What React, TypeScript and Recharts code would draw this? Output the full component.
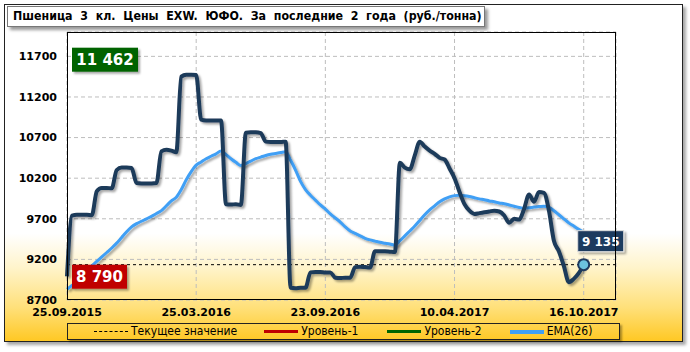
import { LineChart, Line, XAxis, YAxis, CartesianGrid, ReferenceLine } from 'recharts';

// x positions of the date ticks (weekly points) and their labels
const tickIdx = [0, 26, 52, 78, 104];
const tickLabels = ['25.09.2015', '25.03.2016', '23.09.2016', '10.04.2017', '16.10.2017'];
const yTicks = [8700, 9200, 9700, 10200, 10700, 11200, 11700];

// weekly price, rub/t
const price = [
  8990, 9740, 9750, 9750, 9750, 9745, 10040, 10080, 10080, 10075,
  10300, 10330, 10330, 10325, 10140, 10135, 10135, 10135, 10140, 10530,
  10550, 10540, 10520, 11450, 11475, 11475, 11470, 10920, 10910, 10910,
  10910, 10910, 9880, 9875, 9880, 9870, 10760, 10765, 10765, 10755,
  10650, 10645, 10645, 10645, 10650, 8850, 8845, 8850, 8850, 9040,
  9045, 9045, 9040, 9040, 8975, 8970, 8975, 8975, 9105, 9110,
  9105, 9100, 9300, 9300, 9300, 9295, 9290, 10390, 10330, 10310,
  10480, 10650, 10590, 10540, 10500, 10450, 10430, 10320, 10200, 10030,
  9880, 9800, 9760, 9770, 9780, 9790, 9800, 9790, 9740, 9650,
  9700, 9690, 9820, 10000, 9910, 10030, 10020, 9800, 9430, 9300,
  9120, 8920, 8960, 9030, 9135,
];

const ema = [
  8830, 8880, 8930, 8990, 9060, 9120, 9175, 9230, 9285, 9340,
  9400, 9470, 9540, 9600, 9640, 9670, 9700, 9730, 9765, 9800,
  9860, 9920, 9965, 10060, 10180, 10280, 10360, 10400, 10440, 10470,
  10500, 10535, 10490, 10440, 10395, 10355, 10380, 10410, 10440, 10460,
  10480, 10495, 10505, 10515, 10525, 10420, 10300, 10160, 10060, 9990,
  9930, 9870, 9820, 9760, 9710, 9660, 9600, 9550, 9520, 9490,
  9460, 9440, 9425, 9410, 9400, 9390, 9375, 9430, 9490, 9550,
  9610, 9680, 9750, 9810, 9860, 9910, 9945, 9970, 9985, 9990,
  9985, 9975, 9960, 9945, 9935, 9920, 9910, 9895, 9885, 9870,
  9855, 9840, 9830, 9835, 9845, 9850, 9855, 9840, 9800, 9750,
  9700, 9650, 9610, 9570, 9535,
];

const currentValue = 9135;
const level1 = 8790;
const level2 = 11462;

const data = price.map((p, i) => ({ i, price: p, ema: ema[i] }));

const fmt = (v: number) => String(v).replace(/\B(?=(\d{3})+(?!\d))/g, ' ');

const axisFont = { fill: '#000', fontSize: 11, fontWeight: 'bold', fontFamily: 'DejaVu Sans' };

function LevelLabel(props: any) {
  const { viewBox, text, fill, w } = props;
  if (!viewBox) return null;
  const x = viewBox.x + 5;
  const y = viewBox.y - 28;
  return (
    <g>
      <rect x={x} y={y} width={w} height={24} fill={fill} filter="url(#sh)" />
      <text x={x + w / 2} y={y + 17.5} textAnchor="middle" fill="#fff"
        fontSize={15} fontWeight="bold" fontFamily="DejaVu Sans">{text}</text>
    </g>
  );
}

function LastDot(props: any) {
  const { cx, cy, index } = props;
  if (index !== price.length - 1) return <g key={index} />;
  return (
    <g key={index}>
      <rect x={cx - 6} y={cy - 34} width={46} height={21} fill="#1f3a5f" stroke="#e0e0e0"
        strokeWidth={1} filter="url(#sh)" />
      <text x={cx + 17} y={cy - 19} textAnchor="middle" fill="#fff" fontSize={12}
        fontWeight="bold" fontFamily="DejaVu Sans">{fmt(currentValue)}</text>
      <circle cx={cx} cy={cy} r={5.5} fill="#6cc3df" stroke="#1f3a5f" strokeWidth={2} />
    </g>
  );
}

function LegendItem({ color, dashed, width, text, gap }: { color: string; dashed?: boolean; width: number; text: string; gap: number }) {
  return (
    <span style={{ display: 'inline-flex', alignItems: 'center', marginRight: gap }}>
      <span style={{
        display: 'inline-block', width: 34, height: 0,
        borderTop: `${width}px ${dashed ? 'dashed' : 'solid'} ${color}`, marginRight: 3,
      }} />
      {text}
    </span>
  );
}

export default function App() {
  return (
    <div style={{ position: 'relative', width: 690, height: 352, overflow: 'hidden' }}>
      <style>{'body{margin:0}'}</style>
      <div style={{
        position: 'absolute', left: 4, top: 4, width: 677, height: 336,
        border: '1px solid #222',
        background: 'linear-gradient(to bottom, #fff 0%, #fff 68%, #fff4cc 78%, #ffe07a 90%, #ffc824 100%)',
        boxShadow: '3px 3px 3px rgba(0,0,0,0.35)',
      }} />
      <div style={{ position: 'absolute', left: 0, top: 0 }}>
        <LineChart width={690} height={352} data={data} margin={{ top: 32, right: 0, bottom: 30, left: 0 }}>
          <defs>
            <filter id="sh" x="-10%" y="-10%" width="130%" height="140%">
              <feDropShadow dx="2" dy="2" stdDeviation="1.2" floodColor="#000" floodOpacity="0.35" />
            </filter>
          </defs>
          <CartesianGrid stroke="#bdbdbd" strokeDasharray="4 3" />
          <XAxis dataKey="i" type="number" domain={[0, 110.5]} ticks={tickIdx} interval={0}
            tickFormatter={(v: number) => tickLabels[tickIdx.indexOf(v)] ?? ''}
            axisLine={false} tickLine={false} tickSize={0} tickMargin={8} height={22} tick={axisFont} />
          <YAxis domain={[8700, 12000]} ticks={yTicks} width={67} axisLine={false} tickLine={false}
            tickSize={0} tickMargin={10} tick={axisFont} />
          <YAxis yAxisId="r" orientation="right" domain={[8700, 12000]} ticks={yTicks} width={74}
            axisLine={false} tickLine={false} tickSize={0} tickMargin={12} tick={{ ...axisFont, textAnchor: 'start' }} />
          <ReferenceLine y={currentValue} stroke="#000" strokeDasharray="3 3" strokeWidth={1} />
          <Line dataKey="ema" type="monotone" stroke="#3f9ff5" strokeWidth={3} dot={false}
            isAnimationActive={false} filter="url(#sh)" />
          <Line dataKey="price" type="monotone" stroke="#1f3a5a" strokeWidth={4} dot={LastDot}
            activeDot={false} isAnimationActive={false} filter="url(#sh)" />
          <ReferenceLine y={level1} stroke="#c00000" strokeWidth={2} filter="url(#sh)" zIndex={1000}
            label={<LevelLabel text={fmt(level1)} fill="#c00000" w={55} />} />
          <ReferenceLine y={level2} stroke="#006400" strokeWidth={2} filter="url(#sh)" zIndex={1000}
            label={<LevelLabel text={fmt(level2)} fill="#006400" w={66} />} />
        </LineChart>
      </div>
      <div style={{
        position: 'absolute', left: 67, top: 32, width: 549, height: 268,
        border: '1px solid #000', boxSizing: 'border-box', pointerEvents: 'none',
      }} />
      <div style={{
        position: 'absolute', left: 7, top: 6, width: 478, height: 21, boxSizing: 'border-box',
        border: '1px solid #777', background: '#fff', boxShadow: '3px 3px 3px rgba(0,0,0,0.4)',
        fontFamily: 'DejaVu Sans Condensed', fontWeight: 'bold', fontSize: 12.3, lineHeight: '19px',
        paddingLeft: 5, whiteSpace: 'pre', color: '#000',
      }}>
        {'Пшеница  3  кл.  Цены  EXW.  ЮФО.  За  последние  2  года  (руб./тонна)'}
      </div>
      <div style={{
        position: 'absolute', left: 67, top: 323, width: 553, height: 17, boxSizing: 'border-box',
        border: '1px solid #222', boxShadow: '2px 2px 2px rgba(0,0,0,0.35)',
        fontFamily: 'DejaVu Sans Condensed', fontSize: 12, lineHeight: '15px', color: '#000',
        display: 'flex', justifyContent: 'flex-start', alignItems: 'center', whiteSpace: 'nowrap',
        paddingLeft: 26,
      }}>
        <LegendItem color="#000" dashed width={1} text="Текущее значение" gap={27} />
        <LegendItem color="#c00000" width={3} text="Уровень-1" gap={29} />
        <LegendItem color="#006400" width={3} text="Уровень-2" gap={28} />
        <LegendItem color="#3f9ff5" width={4} text="EMA(26)" gap={0} />
      </div>
    </div>
  );
}
